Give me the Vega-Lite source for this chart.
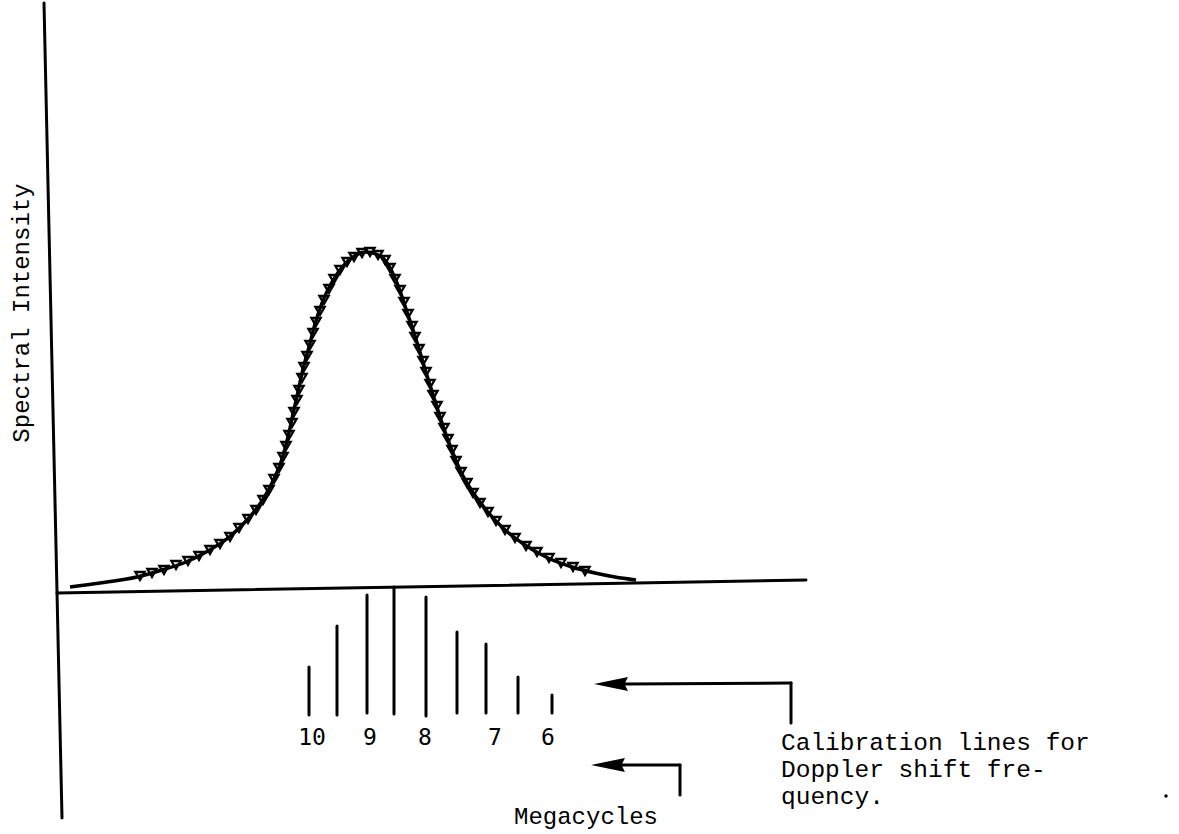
{
  "$schema": "https://vega.github.io/schema/vega-lite/v6.json",
  "width": 1179,
  "height": 834,
  "autosize": {"type": "fit", "contains": "padding"},
  "padding": 0,
  "background": "white",
  "config": {"view": {"stroke": null}},
  "datasets": {
    "segments": [
      {"part": "intensity axis", "x": 44, "y": 3, "x2": 62, "y2": 818},
      {"part": "frequency axis", "x": 57, "y": 593, "x2": 806, "y2": 580},
      {"part": "calibration", "x": 309, "y": 667, "x2": 309, "y2": 715},
      {"part": "calibration", "x": 337, "y": 626, "x2": 337, "y2": 715},
      {"part": "calibration", "x": 367, "y": 595, "x2": 367, "y2": 713},
      {"part": "calibration", "x": 394, "y": 587, "x2": 394, "y2": 714},
      {"part": "calibration", "x": 426, "y": 597, "x2": 426, "y2": 716},
      {"part": "calibration", "x": 457, "y": 632, "x2": 457, "y2": 713},
      {"part": "calibration", "x": 486, "y": 644, "x2": 486, "y2": 713},
      {"part": "calibration", "x": 518, "y": 677, "x2": 518, "y2": 713},
      {"part": "calibration", "x": 552, "y": 695, "x2": 552, "y2": 713},
      {"part": "arrow 1", "x": 625, "y": 684, "x2": 791, "y2": 683},
      {"part": "arrow 1", "x": 791, "y": 683, "x2": 791, "y2": 723},
      {"part": "arrow 2", "x": 615, "y": 765, "x2": 680, "y2": 765},
      {"part": "arrow 2", "x": 680, "y": 765, "x2": 680, "y2": 795}
    ],
    "curve": [
      {"x": 70, "y": 587}, {"x": 100, "y": 583}, {"x": 137, "y": 577},
      {"x": 162, "y": 570}, {"x": 186, "y": 562}, {"x": 208, "y": 551},
      {"x": 228, "y": 538}, {"x": 247, "y": 520}, {"x": 262, "y": 501},
      {"x": 273, "y": 481}, {"x": 282, "y": 459}, {"x": 288, "y": 437},
      {"x": 293, "y": 414}, {"x": 298, "y": 392}, {"x": 303, "y": 369},
      {"x": 309, "y": 347}, {"x": 315, "y": 324}, {"x": 322, "y": 303},
      {"x": 332, "y": 282}, {"x": 345, "y": 264}, {"x": 356, "y": 255},
      {"x": 366, "y": 252}, {"x": 376, "y": 254}, {"x": 383, "y": 258},
      {"x": 389, "y": 266}, {"x": 394, "y": 276}, {"x": 399, "y": 288},
      {"x": 407, "y": 312}, {"x": 415, "y": 336}, {"x": 422, "y": 359},
      {"x": 429, "y": 382}, {"x": 436, "y": 404}, {"x": 443, "y": 426},
      {"x": 451, "y": 448}, {"x": 460, "y": 470}, {"x": 472, "y": 491},
      {"x": 487, "y": 511}, {"x": 504, "y": 529}, {"x": 525, "y": 545},
      {"x": 548, "y": 558}, {"x": 572, "y": 567}, {"x": 595, "y": 573},
      {"x": 615, "y": 577}, {"x": 636, "y": 580}
    ],
    "loops": [
      {"x": 140, "y": 576}, {"x": 152, "y": 573}, {"x": 164, "y": 570}, {"x": 176, "y": 565},
      {"x": 188, "y": 561}, {"x": 199, "y": 556}, {"x": 210, "y": 550}, {"x": 220, "y": 544},
      {"x": 230, "y": 537}, {"x": 239, "y": 528}, {"x": 248, "y": 519}, {"x": 256, "y": 510},
      {"x": 263, "y": 500}, {"x": 269, "y": 490}, {"x": 274, "y": 479}, {"x": 279, "y": 468},
      {"x": 283, "y": 457}, {"x": 286, "y": 446}, {"x": 289, "y": 435}, {"x": 292, "y": 423},
      {"x": 294, "y": 412}, {"x": 297, "y": 400}, {"x": 299, "y": 390}, {"x": 302, "y": 378},
      {"x": 304, "y": 367}, {"x": 307, "y": 356}, {"x": 310, "y": 345}, {"x": 313, "y": 333},
      {"x": 316, "y": 322}, {"x": 320, "y": 311}, {"x": 324, "y": 300}, {"x": 329, "y": 289},
      {"x": 334, "y": 279}, {"x": 340, "y": 270}, {"x": 347, "y": 262}, {"x": 354, "y": 257},
      {"x": 362, "y": 253}, {"x": 370, "y": 252}, {"x": 378, "y": 255}, {"x": 385, "y": 260},
      {"x": 390, "y": 268}, {"x": 395, "y": 279}, {"x": 400, "y": 290}, {"x": 404, "y": 302},
      {"x": 408, "y": 314}, {"x": 412, "y": 326}, {"x": 415, "y": 337}, {"x": 419, "y": 349},
      {"x": 423, "y": 361}, {"x": 426, "y": 372}, {"x": 430, "y": 384}, {"x": 433, "y": 395},
      {"x": 437, "y": 406}, {"x": 440, "y": 417}, {"x": 444, "y": 428}, {"x": 448, "y": 439},
      {"x": 452, "y": 450}, {"x": 456, "y": 461}, {"x": 461, "y": 472}, {"x": 467, "y": 483},
      {"x": 473, "y": 493}, {"x": 480, "y": 503}, {"x": 488, "y": 512}, {"x": 496, "y": 521},
      {"x": 505, "y": 530}, {"x": 515, "y": 538}, {"x": 526, "y": 546}, {"x": 537, "y": 552},
      {"x": 549, "y": 558}, {"x": 561, "y": 563}, {"x": 573, "y": 567}, {"x": 585, "y": 571}
    ],
    "arrowheads": [
      {"arrow": "calibration", "x": 611, "y": 684},
      {"arrow": "megacycles", "x": 608, "y": 765}
    ],
    "ticklabels": [
      {"label": "10", "x": 312, "y": 745},
      {"label": "9", "x": 370, "y": 745},
      {"label": "8", "x": 425, "y": 745},
      {"label": "7", "x": 495, "y": 745},
      {"label": "6", "x": 548, "y": 745}
    ],
    "notes": [
      {"note": "Calibration lines for", "x": 781, "y": 750},
      {"note": "Doppler shift fre-", "x": 781, "y": 777},
      {"note": "quency.", "x": 781, "y": 804}
    ],
    "units": [
      {"title": "Megacycles", "x": 586, "y": 824}
    ],
    "ytitle": [
      {"title": "Spectral Intensity", "x": 29, "y": 313}
    ],
    "specks": [
      {"x": 1166, "y": 796}
    ]
  },
  "layer": [
    {
      "data": {"name": "segments"},
      "mark": {"type": "rule", "color": "black", "strokeWidth": 3, "strokeCap": "round"},
      "encoding": {
        "x": {"field": "x", "type": "quantitative", "scale": {"domain": [0, 1179], "nice": false, "zero": false}, "axis": null},
        "y": {"field": "y", "type": "quantitative", "scale": {"domain": [0, 834], "reverse": true, "nice": false, "zero": false}, "axis": null},
        "x2": {"field": "x2"},
        "y2": {"field": "y2"}
      }
    },
    {
      "data": {"name": "curve"},
      "mark": {"type": "line", "color": "black", "strokeWidth": 3.5, "interpolate": "monotone"},
      "encoding": {
        "x": {"field": "x", "type": "quantitative", "scale": {"domain": [0, 1179], "nice": false, "zero": false}, "axis": null},
        "y": {"field": "y", "type": "quantitative", "scale": {"domain": [0, 834], "reverse": true, "nice": false, "zero": false}, "axis": null}
      }
    },
    {
      "data": {"name": "loops"},
      "mark": {"type": "point", "shape": "triangle-down", "filled": false, "color": "black", "strokeWidth": 2.3, "size": 85, "opacity": 1},
      "encoding": {
        "x": {"field": "x", "type": "quantitative", "scale": {"domain": [0, 1179], "nice": false, "zero": false}, "axis": null},
        "y": {"field": "y", "type": "quantitative", "scale": {"domain": [0, 834], "reverse": true, "nice": false, "zero": false}, "axis": null}
      }
    },
    {
      "data": {"name": "arrowheads"},
      "mark": {"type": "point", "shape": "M-1,0L1,-0.42L0.8,0L1,0.42Z", "filled": true, "color": "black", "size": 1150, "opacity": 1},
      "encoding": {
        "x": {"field": "x", "type": "quantitative", "scale": {"domain": [0, 1179], "nice": false, "zero": false}, "axis": null},
        "y": {"field": "y", "type": "quantitative", "scale": {"domain": [0, 834], "reverse": true, "nice": false, "zero": false}, "axis": null}
      }
    },
    {
      "data": {"name": "specks"},
      "mark": {"type": "point", "shape": "circle", "filled": true, "color": "black", "size": 12, "opacity": 1},
      "encoding": {
        "x": {"field": "x", "type": "quantitative", "scale": {"domain": [0, 1179], "nice": false, "zero": false}, "axis": null},
        "y": {"field": "y", "type": "quantitative", "scale": {"domain": [0, 834], "reverse": true, "nice": false, "zero": false}, "axis": null}
      }
    },
    {
      "data": {"name": "ticklabels"},
      "mark": {"type": "text", "font": "DejaVu Sans Mono", "fontSize": 23, "align": "center", "baseline": "alphabetic", "color": "black"},
      "encoding": {
        "x": {"field": "x", "type": "quantitative", "scale": {"domain": [0, 1179], "nice": false, "zero": false}, "axis": null},
        "y": {"field": "y", "type": "quantitative", "scale": {"domain": [0, 834], "reverse": true, "nice": false, "zero": false}, "axis": null},
        "text": {"field": "label"}
      }
    },
    {
      "data": {"name": "notes"},
      "mark": {"type": "text", "font": "Liberation Mono", "fontSize": 24.5, "align": "left", "baseline": "alphabetic", "color": "black"},
      "encoding": {
        "x": {"field": "x", "type": "quantitative", "scale": {"domain": [0, 1179], "nice": false, "zero": false}, "axis": null},
        "y": {"field": "y", "type": "quantitative", "scale": {"domain": [0, 834], "reverse": true, "nice": false, "zero": false}, "axis": null},
        "text": {"field": "note"}
      }
    },
    {
      "data": {"name": "units"},
      "mark": {"type": "text", "font": "Liberation Mono", "fontSize": 24, "align": "center", "baseline": "alphabetic", "color": "black"},
      "encoding": {
        "x": {"field": "x", "type": "quantitative", "scale": {"domain": [0, 1179], "nice": false, "zero": false}, "axis": null},
        "y": {"field": "y", "type": "quantitative", "scale": {"domain": [0, 834], "reverse": true, "nice": false, "zero": false}, "axis": null},
        "text": {"field": "title"}
      }
    },
    {
      "data": {"name": "ytitle"},
      "mark": {"type": "text", "font": "Liberation Mono", "fontSize": 24, "align": "center", "baseline": "alphabetic", "angle": 270, "color": "black"},
      "encoding": {
        "x": {"field": "x", "type": "quantitative", "scale": {"domain": [0, 1179], "nice": false, "zero": false}, "axis": null},
        "y": {"field": "y", "type": "quantitative", "scale": {"domain": [0, 834], "reverse": true, "nice": false, "zero": false}, "axis": null},
        "text": {"field": "title"}
      }
    }
  ]
}
